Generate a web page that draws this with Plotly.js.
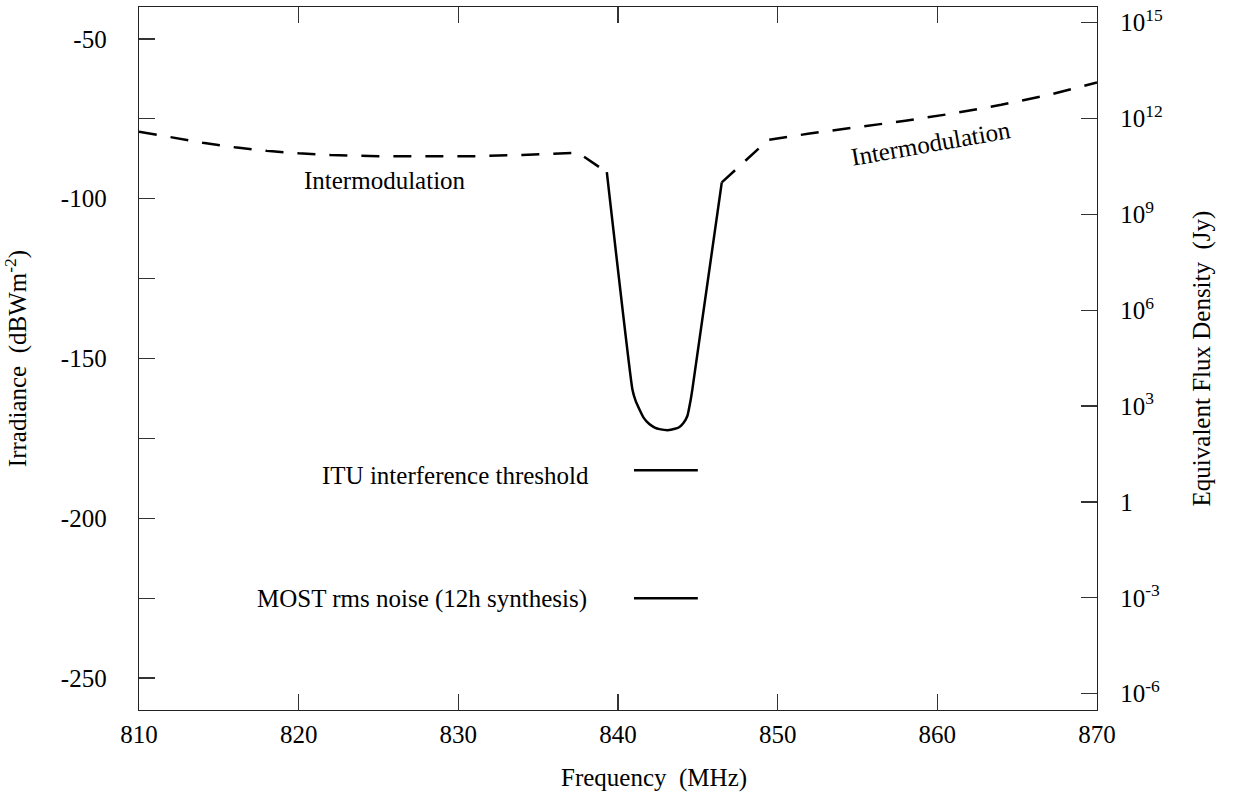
<!DOCTYPE html>
<html>
<head>
<meta charset="utf-8">
<script src="https://cdn.plot.ly/plotly-3.0.1.min.js"></script>
<style>html,body{margin:0;padding:0;background:#fff;}#chart{width:1234px;height:796px;}</style>
</head>
<body>
<div id="chart"></div>
<script>
// Intermodulation (dashed) – below the MOST band
const intermodLowFreq = [810, 812, 814, 816, 818, 820, 822, 825, 828, 831, 834, 837.5, 839.3];
const intermodLowIrr  = [-79.0, -80.8, -82.5, -83.9, -85.0, -85.8, -86.3, -86.7, -86.8, -86.7, -86.3, -85.6, -91.7];

// Filter response (solid)
const filterFreq = [839.3, 840.9, 841.1, 841.33, 841.6, 841.96, 842.3, 842.6, 843.2, 843.8, 844.1, 844.35, 844.55, 844.66, 846.5];
const filterIrr  = [-91.7, -159.6, -163.2, -165.8, -168.5, -170.5, -171.6, -172.1, -172.4, -171.6, -170.2, -167.9, -163.0, -159.6, -94.9];

// Intermodulation (dashed) – above the MOST band
const intermodHighFreq = [846.5, 849.4, 852, 855, 858, 861, 864, 867, 870];
const intermodHighIrr  = [-94.9, -81.6, -79.6, -77.7, -75.6, -73.3, -70.6, -67.5, -63.6];

// Reference levels
const ituFreq = [841, 845];
const ituIrr  = [-185, -185];
const mostFreq = [841, 845];
const mostIrr  = [-225, -225];

// Axis ticks
const xTickVals = [810, 820, 830, 840, 850, 860, 870];
const xTickText = ['810', '820', '830', '840', '850', '860', '870'];
const yTickVals = [-50, -75, -100, -125, -150, -175, -200, -225, -250];
const yTickText = ['-50', '', '-100', '', '-150', '', '-200', '', '-250'];
// Right axis: equivalent flux density, 10 dB per decade
const jyTickVals = [150, 120, 90, 60, 30, 0, -30, -60];
const jyTickText = ['10<sup>15</sup>', '10<sup>12</sup>', '10<sup>9</sup>', '10<sup>6</sup>', '10<sup>3</sup>', '1', '10<sup>-3</sup>', '10<sup>-6</sup>'];

const yRange = [-260, -40];
const jyOffset = 194.9; // dB between irradiance and Jy scale
const FONT = 'Liberation Serif, Times New Roman, serif';

const dashStyle = '18px,14px';
const traces = [
  {x: intermodLowFreq, y: intermodLowIrr, mode: 'lines', name: 'Intermodulation (low)',
   line: {color: '#000', width: 2.5, dash: dashStyle}, showlegend: false},
  {x: filterFreq, y: filterIrr, mode: 'lines', name: 'Filter response', line: {color: '#000', width: 2.5, shape: 'spline', smoothing: 0.4},
   showlegend: false},
  {x: intermodHighFreq, y: intermodHighIrr, mode: 'lines', name: 'Intermodulation (high)',
   line: {color: '#000', width: 2.5, dash: dashStyle}, showlegend: false},
  {x: ituFreq, y: ituIrr, mode: 'lines', name: 'ITU interference threshold', line: {color: '#000', width: 2.5}, showlegend: false},
  {x: mostFreq, y: mostIrr, mode: 'lines', name: 'MOST rms noise (12h synthesis)', line: {color: '#000', width: 2.5}, showlegend: false},
  {x: [810, 870], y: [yRange[0] + jyOffset, yRange[1] + jyOffset], yaxis: 'y2', mode: 'lines',
   line: {color: 'rgba(0,0,0,0)', width: 0}, hoverinfo: 'skip', showlegend: false}
];

const axisCommon = {
  showgrid: false, zeroline: false, showline: true, linecolor: '#222', linewidth: 1.3,
  ticks: 'inside', ticklen: 16, tickwidth: 1.3, tickcolor: '#333',
  tickfont: {family: FONT, size: 25, color: '#000'}
};

const layout = {
  width: 1234, height: 796,
  margin: {l: 139, r: 137, t: 7, b: 86},
  paper_bgcolor: '#fff', plot_bgcolor: '#fff',
  font: {family: FONT, size: 25, color: '#000'},
  showlegend: false,
  xaxis: Object.assign({}, axisCommon, {
    range: [810, 870], tickvals: xTickVals, ticktext: xTickText, mirror: 'ticks',
    ticklabelstandoff: 2
  }),
  yaxis: Object.assign({}, axisCommon, {
    range: yRange, tickvals: yTickVals, ticktext: yTickText,
    ticklabelstandoff: 26,
    title: {text: 'Irradiance  (dBWm<sup>-2</sup>)', font: {family: FONT, size: 25}, standoff: 27}
  }),
  yaxis2: Object.assign({}, axisCommon, {
    overlaying: 'y', side: 'right', anchor: 'x',
    range: [yRange[0] + jyOffset, yRange[1] + jyOffset],
    tickvals: jyTickVals, ticktext: jyTickText,
    ticklabelstandoff: 17,
    title: {text: 'Equivalent Flux Density  (Jy)', font: {family: FONT, size: 25}, standoff: 30}
  }),
  annotations: [
    {xref: 'paper', yref: 'paper', x: 0.5377, y: -0.097, xanchor: 'center', yanchor: 'middle',
     text: 'Frequency  (MHz)', showarrow: false, font: {family: FONT, size: 25}},
    {x: 820.19, y: -94.4, xanchor: 'left', yanchor: 'middle', text: 'Intermodulation', showarrow: false,
     font: {family: FONT, size: 25}},
    {x: 859.58, y: -82.6, xanchor: 'center', yanchor: 'middle', text: 'Intermodulation', showarrow: false,
     textangle: -10, font: {family: FONT, size: 25}},
    {x: 838.3, y: -186.5, xanchor: 'right', yanchor: 'middle', text: 'ITU interference threshold', showarrow: false,
     font: {family: FONT, size: 25}},
    {x: 838.2, y: -225.3, xanchor: 'right', yanchor: 'middle', text: 'MOST rms noise (12h synthesis)', showarrow: false,
     font: {family: FONT, size: 25}}
  ]
};

Plotly.newPlot('chart', traces, layout, {displayModeBar: false, staticPlot: true});
</script>
</body>
</html>
